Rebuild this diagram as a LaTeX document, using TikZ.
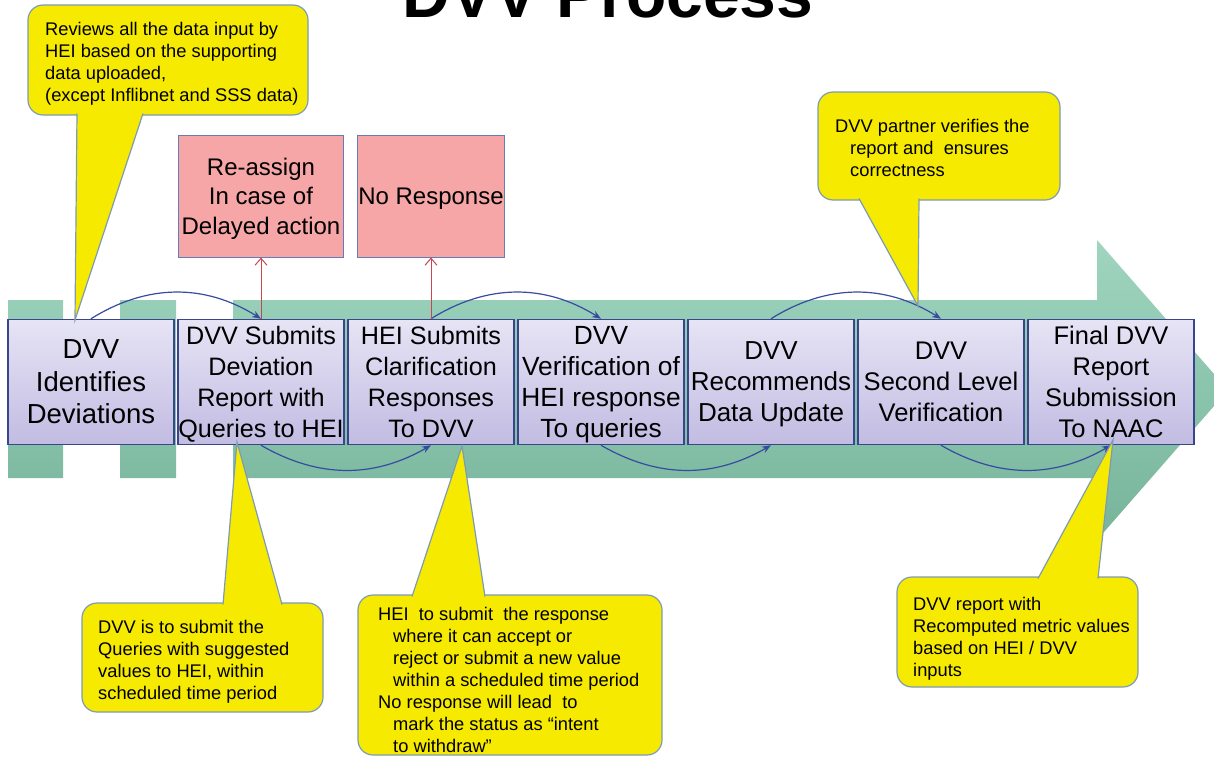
\documentclass[tikz,border=0pt]{standalone}
\usepackage{fontspec}
\setmainfont{Liberation Sans}
\usetikzlibrary{arrows.meta}
\definecolor{bandlight}{RGB}{160,213,191}
\definecolor{banddark}{RGB}{118,180,154}
\definecolor{steptop}{RGB}{230,228,245}
\definecolor{stepbottom}{RGB}{194,188,226}
\definecolor{stepedge}{RGB}{57,70,140}
\definecolor{delaypink}{RGB}{246,166,166}
\definecolor{delayedge}{RGB}{100,125,185}
\definecolor{noteyellow}{RGB}{246,234,0}
\definecolor{noteedge}{RGB}{125,155,180}
\definecolor{linkblue}{RGB}{55,75,160}
\definecolor{alertred}{RGB}{200,70,80}
\tikzstyle{stepbox}=[draw=stepedge, line width=1.5pt, top color=steptop, bottom color=stepbottom, minimum width=166pt, minimum height=125pt, inner sep=0pt, align=center, text depth=-2pt, font=\fontsize{25.5}{31}\selectfont]
\tikzstyle{delaybox}=[draw=delayedge, line width=1pt, fill=delaypink, minimum width=165pt, minimum height=122pt, inner sep=0pt, align=center, text depth=-2pt, font=\fontsize{24}{29.5}\selectfont]
\tikzstyle{notebox}=[fill=noteyellow, draw=noteedge, line width=1.2pt, rounded corners=15pt]
\tikzstyle{pointer}=[fill=noteyellow, draw=noteedge, line width=1.2pt]
\tikzstyle{notetext}=[anchor=north west, inner sep=0pt, align=left, font=\fontsize{18.3}{22}\selectfont]
\tikzstyle{link}=[linkblue, line width=1.2pt, -{Stealth[length=9pt,width=7pt]}]
\tikzstyle{alertline}=[alertred, line width=1pt, -{Straight Barb[length=7pt,width=12pt]}]

\begin{document}
\begin{tikzpicture}[x=1pt, y=-1pt]
\useasboundingbox (0,0) rectangle (1214,758);
\clip (0,0) rectangle (1214,758);
% Title
    \node[font=\fontsize{66}{70}\selectfont\bfseries, anchor=base] (title) at (608,17) {DVV Process};
% Band arrow
    \shade[top color=bandlight, bottom color=banddark]
        (8,300) rectangle (63,478)
        (120,300) rectangle (176,478)
        (233,300) -- (1097,300) -- (1097,240) -- (1228,390) -- (1097,540) -- (1097,478) -- (233,478) -- cycle;
% Steps
    \node[stepbox, font=\fontsize{27.5}{32.5}\selectfont] (s1) at (91,382) {DVV\\Identifies\\Deviations};
    \node[stepbox, font=\fontsize{25.2}{31}\selectfont] (s2) at (261,382) {DVV Submits\\Deviation\\Report with\\Queries to HEI};
    \node[stepbox, font=\fontsize{25.2}{31}\selectfont] (s3) at (431,382) {HEI Submits\\Clarification\\Responses\\To DVV};
    \node[stepbox, font=\fontsize{26.3}{31}\selectfont] (s4) at (601,382) {DVV\\Verification of\\HEI response\\To queries};
    \node[stepbox, font=\fontsize{26}{31}\selectfont] (s5) at (771,382) {DVV\\Recommends\\Data Update};
    \node[stepbox] (s6) at (941,382) {DVV\\Second Level\\Verification};
    \node[stepbox] (s7) at (1111,382) {Final DVV\\Report\\Submission\\To NAAC};
% Flow between steps
    \draw[link] (s1.north) to[bend left=32] (s2.north);
    \draw[link] (s2.south) to[bend right=30] (s3.south);
    \draw[link] (s3.north) to[bend left=32] (s4.north);
    \draw[link] (s4.south) to[bend right=30] (s5.south);
    \draw[link] (s5.north) to[bend left=32] (s6.north);
    \draw[link] (s6.south) to[bend right=30] (s7.south);
% Exceptions
    \node[delaybox] (r1) at (261,196) {Re-assign\\In case of\\Delayed action};
    \node[delaybox, minimum width=147pt] (r2) at (431,196) {No Response};
    \draw[alertline] (s2.north) -- (r1.south);
    \draw[alertline] (s3.north) -- (r2.south);
% Notes
    \filldraw[notebox] (28,5) rectangle (308,115);
    \filldraw[pointer] (77,113.5) -- (75,320) -- (143,113.5);
    \node[notetext] (n1) at (45,21.7) {Reviews all the data input by\\HEI based on the supporting\\data uploaded,\\(except Inflibnet and SSS data)};
    \filldraw[notebox] (82,603) rectangle (323,712);
    \filldraw[pointer] (223,604.5) -- (237,442) -- (282,604.5);
    \node[notetext] (n2) at (98,620) {DVV is to submit the\\Queries with suggested\\values to HEI, within\\scheduled time period};
    \filldraw[notebox] (358,595) rectangle (662,755);
    \filldraw[pointer] (412,596.5) -- (462,446) -- (485,596.5);
    \node[notetext] (n3) at (378,607.3) {HEI~ to submit~ the response\\\hspace*{15pt}where it can accept or\\\hspace*{15pt}reject or submit a new value\\\hspace*{15pt}within a scheduled time period\\No response will lead~ to\\\hspace*{15pt}mark the status as “intent\\\hspace*{15pt}to withdraw”};
    \filldraw[notebox] (818,92) rectangle (1060,200);
    \filldraw[pointer] (859,198.5) -- (918,306) -- (919,198.5);
    \node[notetext] (n4) at (835,119.3) {DVV partner verifies the\\\hspace*{15pt}report and~ ensures\\\hspace*{15pt}correctness};
    \filldraw[notebox] (897,577) rectangle (1138,687);
    \filldraw[pointer] (1038,578.5) -- (1113,440) -- (1098,578.5);
    \node[notetext] (n5) at (913,596.7) {DVV report with\\Recomputed metric values\\based on HEI / DVV\\inputs};
\end{tikzpicture}
\end{document}
